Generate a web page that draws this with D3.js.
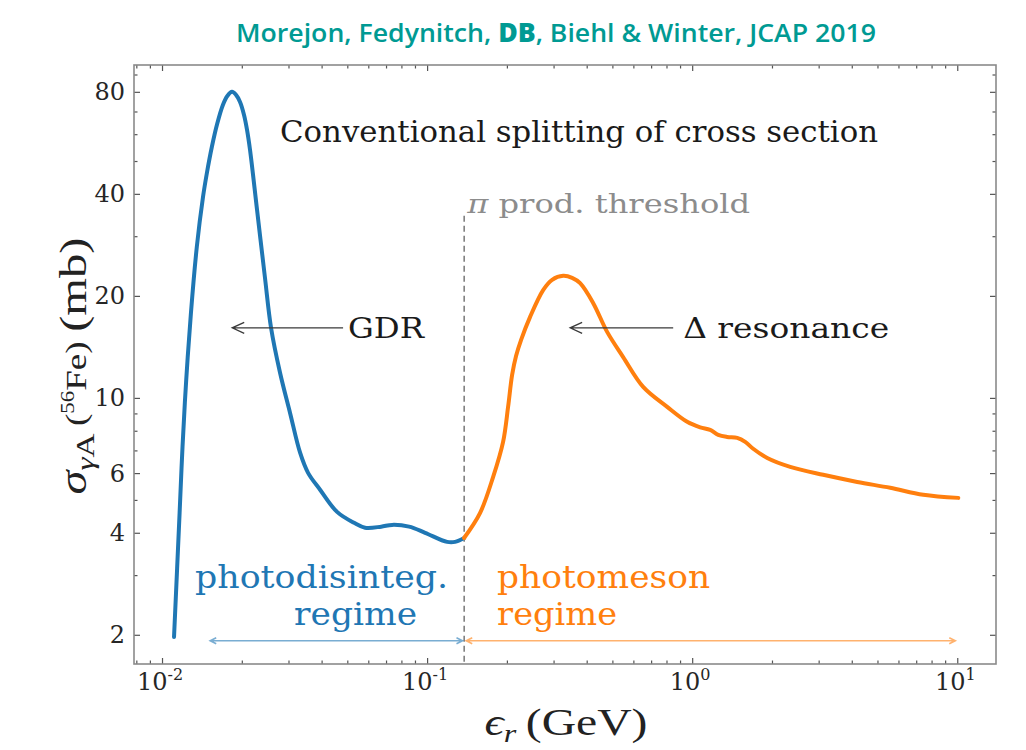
<!DOCTYPE html>
<html>
<head>
<meta charset="utf-8">
<script src="https://cdn.jsdelivr.net/npm/d3@7"></script>
<style>
  body { margin: 0; background: #fff; }
  svg { display: block; }
</style>
</head>
<body>
<svg id="chart" width="1026" height="750"></svg>
<script>
// Photon energy in the nucleus rest frame (GeV) and photo-nuclear cross section of 56Fe (mb)
// Photodisintegration part (giant dipole resonance and plateau up to the pion threshold)
const gdrEnergy = [0.01110, 0.011651, 0.011949, 0.012340, 0.012855, 0.013529, 0.01428, 0.014789,
  0.015415, 0.016140, 0.016968, 0.017636, 0.018370, 0.019020, 0.019693, 0.020389, 0.020928, 0.021482,
  0.022827, 0.02446, 0.02578, 0.027876, 0.03041, 0.03318, 0.03556, 0.03947, 0.04574, 0.05303, 0.05834,
  0.06710, 0.07379, 0.08551, 0.09829, 0.1190, 0.1275, 0.1379];
const gdrSigma = [1.97, 4.58, 7.17, 11.3, 17.8, 27.9, 39.2, 46.4,
  55.0, 64.3, 73.2, 77.8, 80.0, 78.4, 74.7, 68.4, 61.8, 53.9,
  35.9, 22.6, 16.1, 11.86, 9.03, 6.89, 6.01, 5.36, 4.61, 4.28, 4.14,
  4.17, 4.22, 4.17, 4.00, 3.76, 3.76, 3.86];

// Photomeson part (Delta resonance and high-energy tail)
const mesonEnergy = [0.1379, 0.1585, 0.1775, 0.1935, 0.2021, 0.20927, 0.21666, 0.22629, 0.24467,
  0.2740, 0.29620, 0.32606, 0.35245, 0.3778, 0.4229, 0.4777, 0.5490, 0.6532, 0.8048, 0.9574,
  1.072, 1.169, 1.254, 1.355, 1.479, 1.585, 1.699, 1.919, 2.343, 3.121, 4.195, 5.587, 7.443, 10.09];
const mesonSigma = [3.86, 4.58, 5.85, 7.42, 9.41, 11.69, 13.31, 14.83, 17.34,
  20.8, 22.3, 22.92, 22.61, 21.8, 19.07, 15.66, 13.2, 10.78, 9.41, 8.50,
  8.19, 8.05, 7.78, 7.67, 7.62, 7.42, 7.08, 6.65, 6.26, 5.93, 5.65, 5.43, 5.18, 5.07];

const piThreshold = 0.138;               // GeV
const xMajorTicks = [0.01, 0.1, 1, 10];
const xTickExponents = ["-2", "-1", "0", "1"];
const yMajorTicks = [2, 4, 6, 10, 20, 40, 80];
const yTickLabels = ["2", "4", "6", "10", "20", "40", "80"];

// regime arrows (energy ranges) and their height
const regimeDisinteg = [0.0152, 0.136];
const regimeMeson = [0.1405, 9.83];
const regimeArrowSigma = 1.92;

const BLUE = "#1f77b4", ORANGE = "#ff7f0e";
const SERIF = "'DejaVu Serif', serif";
const MATH = "'Liberation Serif', 'DejaVu Serif', serif";

const svg = d3.select("#chart");
const frame = { left: 134, top: 65, right: 996, bottom: 664 };

const x = d3.scaleLog().domain([0.00784, 14.0]).range([frame.left, frame.right]);
const y = d3.scaleLog().domain([1.64, 96]).range([frame.bottom, frame.top]);

function fit(sel, w) {
  sel.attr("textLength", w).attr("lengthAdjust", "spacingAndGlyphs");
  return sel;
}

// ---- title ----
const title = svg.append("text")
  .attr("x", 236).attr("y", 42)
  .attr("font-family", "'Open Sans', 'Noto Sans', sans-serif")
  .attr("font-size", 26).attr("font-weight", 600)
  .attr("fill", "#009a93");
title.append("tspan").text("Morejon, Fedynitch, ");
title.append("tspan").attr("font-weight", 800).text("DB");
title.append("tspan").text(", Biehl & Winter, JCAP 2019");
fit(title, 640);

// ---- ticks (inward on all four sides) ----
const xMinor = x.ticks().filter(v => !xMajorTicks.some(m => Math.abs(m - v) / m < 1e-6));
const yMinor = y.ticks().filter(v => !yMajorTicks.some(m => Math.abs(m - v) / m < 1e-6));

function tickGroup(axisGen, transform) {
  const g = svg.append("g").attr("transform", transform).call(axisGen);
  g.select(".domain").remove();
  g.selectAll("text").remove();
  g.selectAll("line").attr("stroke", "#555").attr("stroke-width", 1.2);
  return g;
}
const MAJ = 6, MIN = 3.5;
tickGroup(d3.axisBottom(x).tickValues(xMajorTicks).tickSize(-MAJ), `translate(0,${frame.bottom})`);
tickGroup(d3.axisBottom(x).tickValues(xMinor).tickSize(-MIN), `translate(0,${frame.bottom})`);
tickGroup(d3.axisTop(x).tickValues(xMajorTicks).tickSize(-MAJ), `translate(0,${frame.top})`);
tickGroup(d3.axisTop(x).tickValues(xMinor).tickSize(-MIN), `translate(0,${frame.top})`);
tickGroup(d3.axisLeft(y).tickValues(yMajorTicks).tickSize(-MAJ), `translate(${frame.left},0)`);
tickGroup(d3.axisLeft(y).tickValues(yMinor).tickSize(-MIN), `translate(${frame.left},0)`);
tickGroup(d3.axisRight(y).tickValues(yMajorTicks).tickSize(-MAJ), `translate(${frame.right},0)`);
tickGroup(d3.axisRight(y).tickValues(yMinor).tickSize(-MIN), `translate(${frame.right},0)`);

// frame
svg.append("rect")
  .attr("x", frame.left).attr("y", frame.top)
  .attr("width", frame.right - frame.left).attr("height", frame.bottom - frame.top)
  .attr("fill", "none").attr("stroke", "#8a8a8a").attr("stroke-width", 1.6);

// x tick labels 10^n
xMajorTicks.forEach((v, i) => {
  const t = svg.append("text")
    .attr("x", x(v) - 2).attr("y", frame.bottom + 26)
    .attr("text-anchor", "middle")
    .attr("font-family", SERIF).attr("font-size", 24).attr("fill", "#262626");
  t.append("tspan").text("10");
  t.append("tspan").attr("font-size", 16).attr("dy", -10).text(xTickExponents[i]);
});

// y tick labels
yMajorTicks.forEach((v, i) => {
  svg.append("text")
    .attr("x", frame.left - 9).attr("y", y(v) + 8.5)
    .attr("text-anchor", "end")
    .attr("font-family", SERIF).attr("font-size", 24).attr("fill", "#262626")
    .text(yTickLabels[i]);
});

// axis labels
const xl = svg.append("text")
  .attr("x", 566).attr("y", 735).attr("text-anchor", "middle")
  .attr("font-family", MATH).attr("font-size", 37).attr("fill", "#222");
xl.append("tspan").attr("font-style", "italic").text("\u03F5");
xl.append("tspan").attr("font-style", "italic").attr("font-size", 25).attr("dy", 7).text("r");
xl.append("tspan").attr("dy", -7).text("\u2009(GeV)");
fit(xl, 163);

const yl = svg.append("text")
  .attr("transform", "translate(86,366) rotate(-90)")
  .attr("text-anchor", "middle")
  .attr("font-family", MATH).attr("font-size", 38).attr("fill", "#222");
yl.append("tspan").attr("font-style", "italic").text("\u03C3");
yl.append("tspan").attr("font-size", 26).attr("dy", 8)
  .html('<tspan font-style="italic">\u03B3</tspan>A');
yl.append("tspan").attr("font-size", 29).attr("dy", -8).text("\u2009(");
yl.append("tspan").attr("font-size", 18).attr("dy", -12).text("56");
yl.append("tspan").attr("font-size", 29).attr("dy", 12).text("Fe)");
yl.append("tspan").text("\u2009(mb)");
fit(yl, 257);

// ---- pion production threshold ----
svg.append("line")
  .attr("x1", x(piThreshold)).attr("x2", x(piThreshold))
  .attr("y1", y(34.5)).attr("y2", frame.bottom)
  .attr("stroke", "#808080").attr("stroke-width", 1.6).attr("stroke-dasharray", "6,4");

const thr = svg.append("text")
  .attr("x", x(0.1416)).attr("y", y(35.1))
  .attr("font-family", SERIF).attr("font-size", 26).attr("fill", "#8c8c8c");
thr.append("tspan").attr("font-style", "italic").text("\u03C0");
thr.append("tspan").text(" prod. threshold");
fit(thr, 283);

// ---- cross-section curves ----
const line = d3.line()
  .x(d => x(d[0])).y(d => y(d[1]))
  .curve(d3.curveCatmullRom.alpha(0.5));

svg.append("path")
  .datum(gdrEnergy.map((e, i) => [e, gdrSigma[i]]))
  .attr("d", line).attr("fill", "none")
  .attr("stroke", BLUE).attr("stroke-width", 4).attr("stroke-linecap", "round")
  .attr("stroke-linejoin", "round");

svg.append("path")
  .datum(mesonEnergy.map((e, i) => [e, mesonSigma[i]]))
  .attr("d", line).attr("fill", "none")
  .attr("stroke", ORANGE).attr("stroke-width", 4).attr("stroke-linecap", "round")
  .attr("stroke-linejoin", "round");

// ---- annotations ----
const header = svg.append("text")
  .attr("x", x(0.02788)).attr("y", y(57.0))
  .attr("font-family", SERIF).attr("font-size", 29).attr("fill", "#1a1a1a")
  .text("Conventional splitting of cross section");
fit(header, 598);

function annotArrow(fromE, toE, sigma) {
  const x0 = x(fromE), x1 = x(toE), yy = y(sigma);
  svg.append("path")
    .attr("d", `M${x0},${yy}L${x1},${yy}M${x1 + 12},${yy - 5.5}L${x1},${yy}L${x1 + 12},${yy + 5.5}`)
    .attr("fill", "none").attr("stroke", "#3a3a3a").attr("stroke-width", 1.3);
}
annotArrow(0.0482, 0.0184, 16.1);
annotArrow(0.848, 0.3464, 16.1);

fit(svg.append("text")
  .attr("x", x(0.0503)).attr("y", y(15.0))
  .attr("font-family", SERIF).attr("font-size", 27).attr("fill", "#1a1a1a")
  .text("GDR"), 76);

fit(svg.append("text")
  .attr("x", x(0.9247)).attr("y", y(15.0))
  .attr("font-family", SERIF).attr("font-size", 27).attr("fill", "#1a1a1a")
  .text("\u0394 resonance"), 206);

// regime labels
function regimeText(e, s, str, color, w) {
  fit(svg.append("text")
    .attr("x", x(e)).attr("y", y(s))
    .attr("font-family", SERIF).attr("font-size", 31).attr("fill", color)
    .text(str), w);
}
regimeText(0.01332, 2.75, "photodisinteg.", BLUE, 253);
regimeText(0.0315, 2.14, "regime", BLUE, 123);
regimeText(0.1837, 2.75, "photomeson", ORANGE, 213);
regimeText(0.1837, 2.14, "regime", ORANGE, 120);

// regime range arrows
function rangeArrow(range, color) {
  const x0 = x(range[0]), x1 = x(range[1]), yy = y(regimeArrowSigma);
  svg.append("path")
    .attr("d", `M${x0},${yy}L${x1},${yy}` +
      `M${x0 + 6},${yy - 3}L${x0},${yy}L${x0 + 6},${yy + 3}` +
      `M${x1 - 6},${yy - 3}L${x1},${yy}L${x1 - 6},${yy + 3}`)
    .attr("fill", "none").attr("stroke", color).attr("stroke-opacity", 0.6)
    .attr("stroke-width", 1.6);
}
rangeArrow(regimeDisinteg, BLUE);
rangeArrow(regimeMeson, ORANGE);
</script>
</body>
</html>
